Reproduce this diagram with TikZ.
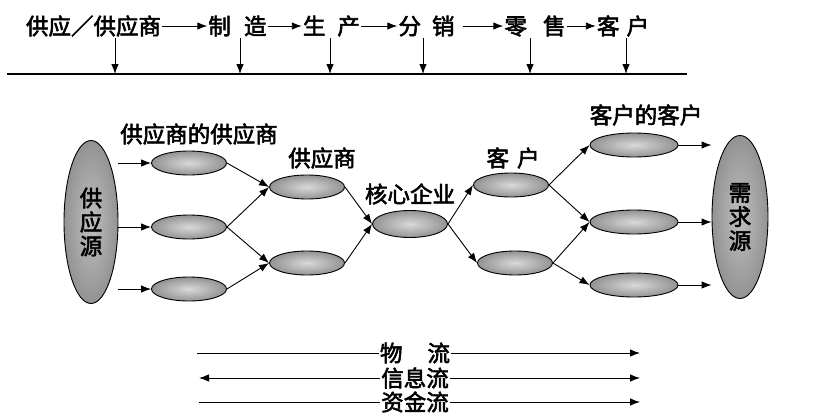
\documentclass[tikz,border=0pt]{standalone}
\usepackage{fontspec}
\newfontfamily\cjk[BoldFont={Noto Sans CJK SC},BoldFeatures={FakeBold=2.5}]{Noto Sans CJK SC}
\usetikzlibrary{shapes.geometric,arrows.meta}
\tikzset{
  lbl/.style={font=\cjk\bfseries\fontsize{22.5}{24}\selectfont, inner sep=1pt},
  conn/.style={line width=0.9pt, -{Latex[length=10pt,width=7.5pt]}},
  plain/.style={line width=0.9pt},
  small/.style={ellipse, draw=black, line width=0.9pt, inner sep=0pt,
    minimum width=75pt, minimum height=24pt, shade, inner color=gray!30, outer color=gray!85},
  big/.style={ellipse, draw=black, line width=0.9pt, inner sep=0pt, align=center,
    font=\cjk\bfseries\fontsize{22.5}{24}\selectfont,
    minimum width=54pt, minimum height=163pt, shade, inner color=gray!50, outer color=gray!85}
}
\begin{document}
\begin{tikzpicture}[x=1pt,y=-1pt]
\useasboundingbox (0,0) rectangle (816,415);
% top chain
\node[lbl] (t1) at (93.5,26) {供应／供应商};
\node[lbl] (t2) at (237.5,26) {制\hspace{13pt}造};
\node[lbl] (t3) at (331.5,26) {生\hspace{12pt}产};
\node[lbl] (t4) at (426.5,26) {分\hspace{11pt}销};
\node[lbl] (t5) at (535,26) {零\hspace{16pt}售};
\node[lbl] (t6) at (623,26) {客\hspace{7pt}户};
\draw[conn] (t1) -- (t2);
\draw[conn] (t2) -- (t3);
\draw[conn] (t3) -- (t4);
\draw[conn, shorten <=7pt] (t4) -- (t5);
\draw[conn] (t5) -- (t6);
\coordinate (L1) at (7,74);
\coordinate (L2) at (687,74);
\draw[line width=1.2pt] (L1) -- (L2);
\foreach \i/\x in {1/115,2/240,3/330,4/423,5/530,6/626}{
  \coordinate (ds\i) at (\x,38);
  \coordinate (de\i) at (\x,74);
  \draw[conn] (ds\i) -- (de\i);
}
% network
\node[big] (src) at (91,222) {供\\应\\源};
\node[big, minimum width=56pt] (snk) at (740,217) {需\\求\\源};
\node[small] (a1) at (189,163) {};
\node[small] (a2) at (189,227) {};
\node[small] (a3) at (189,289) {};
\node[small] (b1) at (307,187) {};
\node[small] (b2) at (307,263) {};
\node[small, minimum height=27pt] (core) at (410,224) {};
\node[small] (c1) at (511,185) {};
\node[small] (c2) at (515,263) {};
\node[small, minimum width=88pt] (d1) at (634,145) {};
\node[small, minimum width=88pt] (d2) at (634,222) {};
\node[small, minimum width=88pt] (d3) at (634,285) {};
\foreach \n in {a1,a2,a3}{\draw[conn] (src.east |- \n.west) -- (\n.west);}
\foreach \n in {d1,d2,d3}{\draw[conn] (\n.east) -- (snk.west |- \n.east);}
\draw[conn] (a1.east) -- (b1.west);
\draw[conn] (a2.east) -- (b1.west);
\draw[conn] (a2.east) -- (b2.west);
\draw[conn] (a3.east) -- (b2.west);
\draw[conn] (b1.east) -- (core.west);
\draw[conn] (b2.east) -- (core.west);
\draw[conn] (core.east) -- (c1.west);
\draw[conn] (core.east) -- (c2.west);
\draw[conn] (c1.east) -- (d1.west);
\draw[conn] (c1.east) -- (d2.west);
\draw[conn] (c2.east) -- (d2.west);
\draw[conn] (c2.east) -- (d3.west);
\node[lbl] (l1) at (199,134) {供应商的供应商};
\node[lbl] (l2) at (322,158) {供应商};
\node[lbl] (l3) at (410,194) {核心企业};
\node[lbl] (l4) at (513,158) {客\hspace{8pt}户};
\node[lbl] (l5) at (646,115) {客户的客户};
% flows
\node[lbl] (f1) at (415,353) {物\hspace{25pt}流};
\node[lbl] (f2) at (415,378) {信息流};
\node[lbl] (f3) at (415,402) {资金流};
\coordinate (f1l) at (197,353); \coordinate (f1r) at (640,353);
\coordinate (f2l) at (199,378); \coordinate (f2r) at (640,378);
\coordinate (f3l) at (199,402); \coordinate (f3r) at (640,402);
\draw[plain] (f1l) -- (f1.west);
\draw[conn] (f1.east) -- (f1r);
\draw[conn] (f2.west) -- (f2l);
\draw[conn] (f2.east) -- (f2r);
\draw[plain] (f3l) -- (f3.west);
\draw[conn] (f3.east) -- (f3r);
\end{tikzpicture}
\end{document}
